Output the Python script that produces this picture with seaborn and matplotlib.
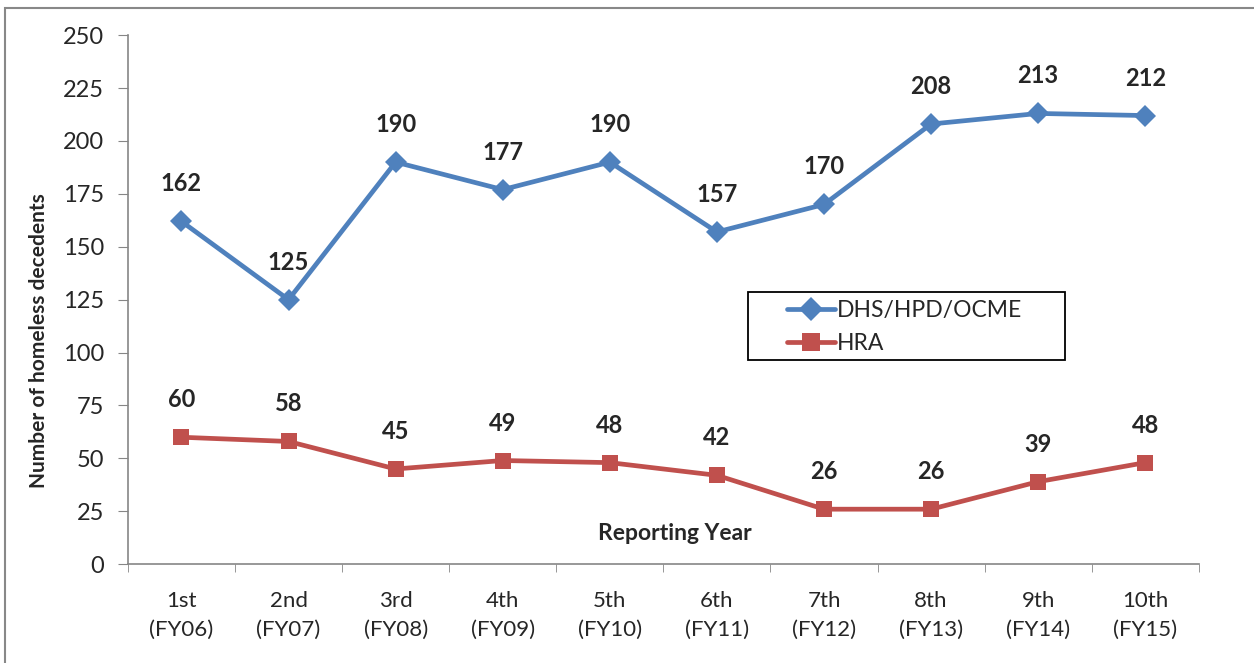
import numpy as np
import pandas as pd
import matplotlib
matplotlib.use('Agg')
import matplotlib.pyplot as plt
import matplotlib.patches as patches
import seaborn as sns

years = ['1st\n(FY06)', '2nd\n(FY07)', '3rd\n(FY08)', '4th\n(FY09)', '5th\n(FY10)',
         '6th\n(FY11)', '7th\n(FY12)', '8th\n(FY13)', '9th\n(FY14)', '10th\n(FY15)']
dhs = [162, 125, 190, 177, 190, 157, 170, 208, 213, 212]
hra = [60, 58, 45, 49, 48, 42, 26, 26, 39, 48]

df = pd.DataFrame({
    'year': years * 2,
    'count': dhs + hra,
    'agency': ['DHS/HPD/OCME'] * len(years) + ['HRA'] * len(years),
})

sns.set_style('white')
plt.rcParams['font.family'] = ['Lato', 'DejaVu Sans']

fig = plt.figure(figsize=(12.54, 6.63), dpi=100)
ax = fig.add_axes([0.102, 0.149, 0.854, 0.798])

palette = {'DHS/HPD/OCME': '#4F81BD', 'HRA': '#C0504D'}
markers = {'DHS/HPD/OCME': 'D', 'HRA': 's'}
sns.lineplot(data=df, x='year', y='count', hue='agency', style='agency',
             palette=palette, markers=markers, dashes=False, sort=False,
             linewidth=3.4, markersize=11, markeredgewidth=0, ax=ax)

for col, vals in [('DHS/HPD/OCME', dhs), ('HRA', hra)]:
    for i, v in enumerate(vals):
        ax.annotate(str(v), (i, v), xytext=(0, 27), textcoords='offset points',
                    ha='center', va='center', fontsize=17, fontweight='bold')

ax.set_xlim(-0.5, len(years) - 0.5)
ax.set_ylim(0, 250)
ax.set_yticks(np.arange(0, 251, 25))
ax.set_xticks(range(len(years)))
ax.set_xticklabels(years, linespacing=1.6)
ax.set_xticks(np.arange(-0.5, len(years), 1), minor=True)
ax.tick_params(axis='x', which='major', length=0, labelsize=16, pad=19)
ax.tick_params(axis='x', which='minor', length=6, color='#868686', direction='out')
ax.tick_params(axis='y', length=7, color='#868686', direction='out', labelsize=17, pad=10)
ax.xaxis.set_tick_params(bottom=True, which='both')
ax.yaxis.set_tick_params(left=True)
for s in ['top', 'right']:
    ax.spines[s].set_visible(False)
for s in ['left', 'bottom']:
    ax.spines[s].set_color('#868686')
    ax.spines[s].set_linewidth(1.2)
ax.set_xlabel('')
ax.set_ylabel('')

fig.text(0.031, 0.486, 'Number of homeless decedents', rotation=90, ha='center', va='center',
         fontsize=15, fontweight='bold')
fig.text(0.538, 0.195, 'Reporting Year', ha='center', va='center', fontsize=16.5, fontweight='bold')

# legend content without its own frame, frame drawn separately (wide padding)
leg = ax.legend(loc='upper left', bbox_to_anchor=(0.615, 0.499), fontsize=16.5, frameon=False,
                handlelength=2.1, borderpad=0, labelspacing=0.5, handletextpad=0.1,
                borderaxespad=0, markerscale=1.15)
ax.add_patch(patches.Rectangle((0.579, 0.386), 0.296, 0.128, transform=ax.transAxes,
                               fill=False, edgecolor='black', linewidth=1.3, zorder=5))

fig.patches.append(patches.Rectangle((0.004, -0.01), 1.0, 0.998, transform=fig.transFigure,
                                     fill=False, edgecolor='#888888', linewidth=1.5))

fig.savefig('out.png', dpi=100)
